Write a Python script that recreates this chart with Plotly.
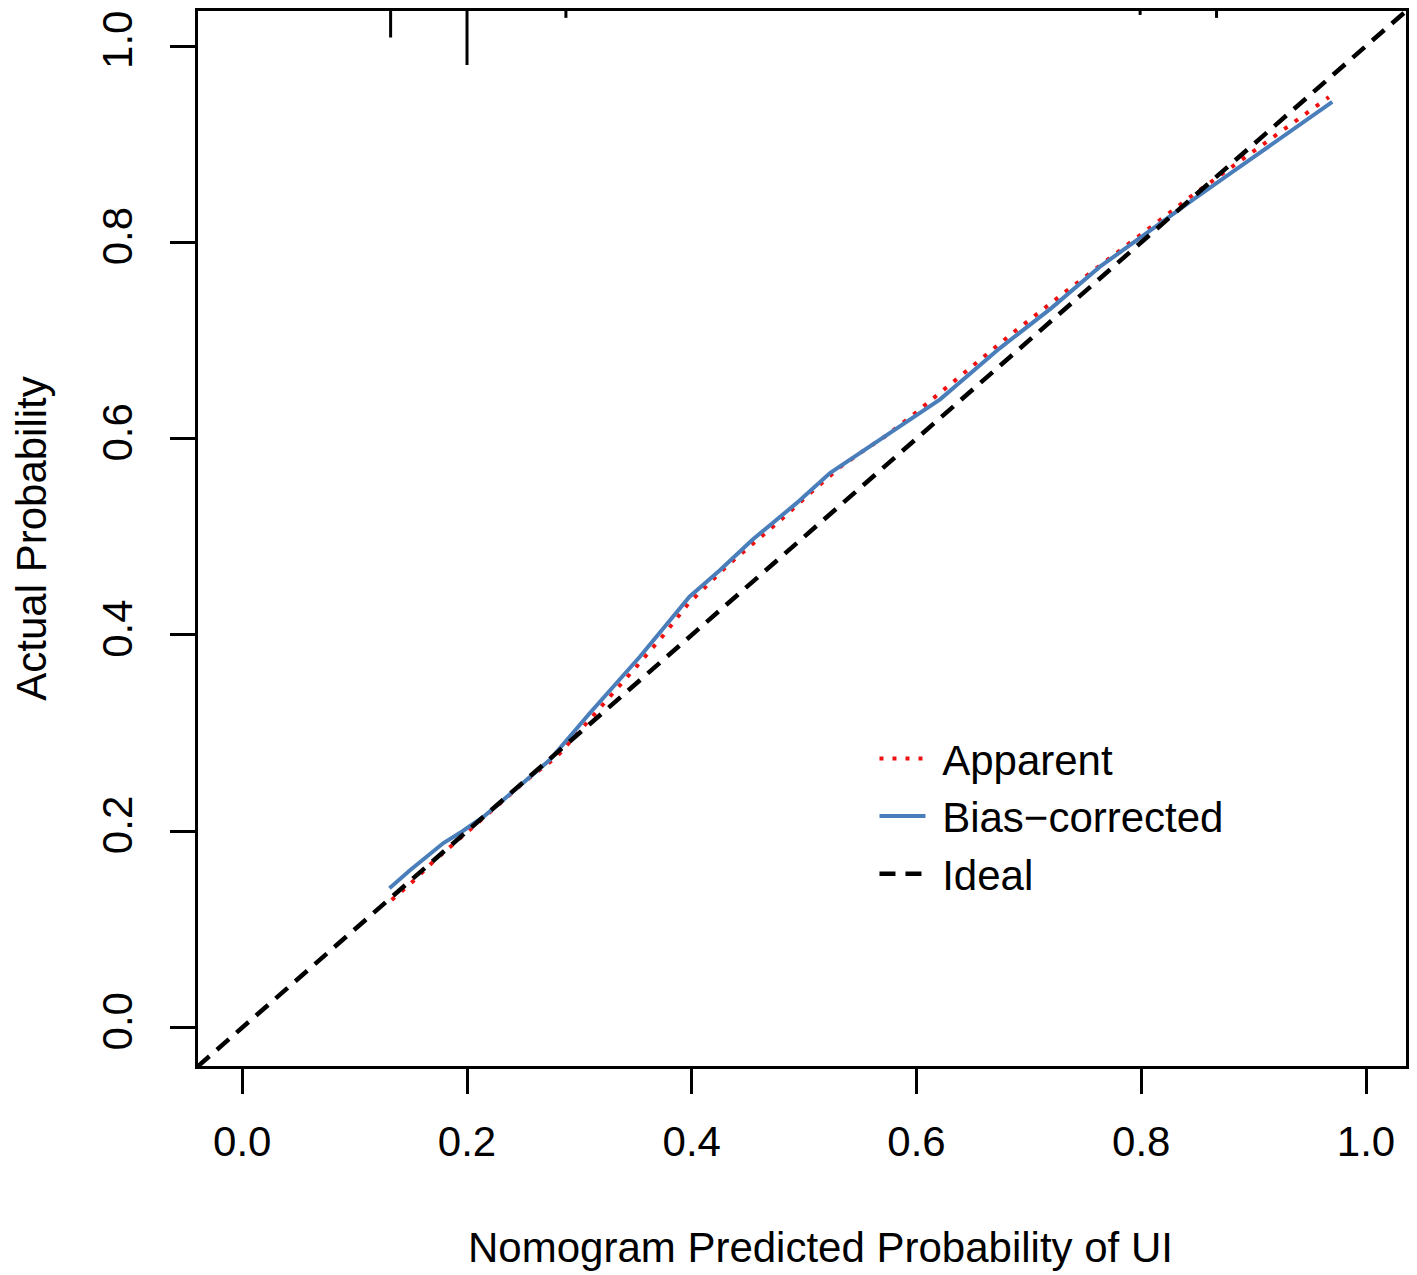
import plotly.graph_objects as go

# bias-corrected calibration curve
corr_x = [0.131, 0.149, 0.179, 0.196, 0.215, 0.240, 0.256, 0.274, 0.309, 0.354,
          0.398, 0.425, 0.454, 0.493, 0.523, 0.552, 0.567, 0.585, 0.603, 0.621,
          0.674, 0.720, 0.763, 0.800, 0.848, 0.879, 0.970]
corr_y = [0.142, 0.160, 0.188, 0.200, 0.215, 0.240, 0.256, 0.273, 0.320, 0.378,
          0.439, 0.466, 0.497, 0.534, 0.565, 0.587, 0.598, 0.612, 0.626, 0.640,
          0.692, 0.733, 0.775, 0.806, 0.845, 0.870, 0.943]

# apparent calibration curve
app_x = [0.133, 0.151, 0.169, 0.195, 0.220, 0.253, 0.280, 0.320, 0.351, 0.375,
         0.397, 0.432, 0.477, 0.505, 0.532, 0.552, 0.573, 0.600, 0.686, 0.733,
         0.781, 0.848, 0.967]
app_y = [0.130, 0.148, 0.168, 0.194, 0.218, 0.252, 0.276, 0.327, 0.368, 0.400,
         0.432, 0.471, 0.515, 0.544, 0.571, 0.587, 0.603, 0.627, 0.708, 0.750,
         0.792, 0.850, 0.948]

# distribution of predicted probabilities (rug spikes at the top)
rug_x = [0.132, 0.200, 0.288, 0.799, 0.867]
rug_len = [0.027, 0.055, 0.007, 0.004, 0.007]

ticks = [0.0, 0.2, 0.4, 0.6, 0.8, 1.0]
tick_text = ["0.0", "0.2", "0.4", "0.6", "0.8", "1.0"]

xr = [-0.0394, 1.0356]
yr = [-0.0392, 1.0357]
ideal = [-0.04, 1.04]

FONT = "Liberation Sans, Arial, sans-serif"
FS = 42

sx, sy = [], []
for xv, h in zip(rug_x, rug_len):
    sx += [xv, xv, None]
    sy += [yr[1], yr[1] - h, None]

fig = go.Figure()
fig.add_trace(go.Scatter(x=sx, y=sy, mode="lines", line=dict(color="black", width=3),
                         showlegend=False, hoverinfo="skip"))
fig.add_trace(go.Scatter(x=app_x, y=app_y, mode="lines", name="\u00a0Apparent",
                         legendgroup="a",
                         line=dict(color="#f01010", width=4, dash="4px,9px")))
fig.add_trace(go.Scatter(x=corr_x, y=corr_y, mode="lines", name="\u00a0Bias\u2212corrected",
                         legendgroup="b",
                         line=dict(color="#4a7ebb", width=4)))
fig.add_trace(go.Scatter(x=ideal, y=ideal, mode="lines", name="\u00a0Ideal",
                         legendgroup="c",
                         line=dict(color="black", width=4.5, dash="16px,10px")))

axis_common = dict(
    tickmode="array", tickvals=ticks, ticktext=tick_text,
    ticks="outside", ticklen=25, tickwidth=3, tickcolor="black",
    showline=True, linecolor="black", linewidth=3, mirror=True,
    showgrid=False, zeroline=False, automargin=False,
    tickfont=dict(family=FONT, size=FS, color="black"),
)

fig.update_layout(
    width=1409, height=1267,
    margin=dict(l=190, r=11, t=3, b=209),
    paper_bgcolor="white", plot_bgcolor="white",
    font=dict(family=FONT, color="black"),
    xaxis=dict(range=xr, **axis_common, ticklabelstandoff=12),
    yaxis=dict(range=yr, tickangle=-90, **axis_common, ticklabelstandoff=21,
               title=dict(text="Actual Probability",
                          font=dict(family=FONT, size=FS), standoff=65)),
    legend=dict(x=0.56, y=0.3235, xanchor="left", yanchor="top",
                font=dict(family=FONT, size=FS, color="black"),
                bgcolor="rgba(0,0,0,0)", tracegroupgap=0, itemwidth=46),
)

# x-axis title (sits slightly right of the plot centre in the original)
fig.add_annotation(text="Nomogram Predicted Probability of UI",
                   xref="paper", yref="paper", x=0.515, y=-0.1716,
                   xanchor="center", yanchor="middle", showarrow=False,
                   font=dict(family=FONT, size=FS, color="black"))

fig.write_html("out.html")
